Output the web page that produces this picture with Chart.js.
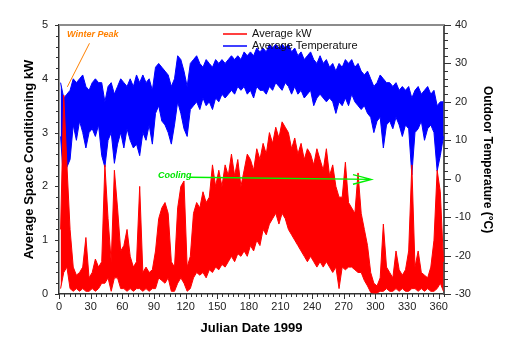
<!DOCTYPE html>
<html>
<head>
<meta charset="utf-8">
<script src="https://cdn.jsdelivr.net/npm/chart.js@4.4.1/dist/chart.umd.min.js"></script>
<style>
  html, body { margin: 0; padding: 0; background: #fff; }
  #wrap { width: 515px; height: 352px; }
</style>
</head>
<body>
<div id="wrap"><canvas id="chart"></canvas></div>
<script>
// each entry covers 3 days: lowest and highest reading seen in that window
const BIN = 3;

const kwLo = [
  0.1, 0.4, 0.5, 0.1, 0.05, 0.1, 0.05, 0.1, 0.05, 0.05,
  0.1, 0.05, 0.1, 0.2, 0.2, 0.3, 0.05, 0.3, 0.3, 0.1,
  0.1, 0.05, 0.1, 0.05, 0.1, 0.1, 0.05, 0.1, 0.05, 0.1,
  0.1, 0.3, 0.25, 0.2, 0.3, 0.05, 0.05, 0.2, 0.3, 0.2,
  0.05, 0.1, 0.3, 0.4, 0.35, 0.4, 0.3, 0.45, 0.4, 0.5,
  0.45, 0.55, 0.5, 0.6, 0.7, 0.6, 0.75, 0.7, 0.8, 0.7,
  0.9, 0.8, 1.0, 0.9, 1.2, 1.1, 1.3, 1.4, 1.5, 1.3,
  1.5, 1.4, 1.2, 1.1, 1.0, 0.9, 0.8, 0.7, 0.6, 0.7,
  0.6, 0.5, 0.6, 0.5, 0.6, 0.5, 0.4, 0.5, 0.1, 0.5,
  0.45, 0.5, 0.5, 0.45, 0.4, 0.4, 0.25, 0.15, 0.03, 0.02,
  0.02, 0.05, 0.05, 0.1, 0.05, 0.05, 0.1, 0.05, 0.1, 0.05,
  0.05, 0.1, 0.1, 0.05, 0.1, 0.05, 0.1, 0.05, 0.05, 0.1,
  0.2, 0.05
];
const kwHi = [
  1.2, 3.7, 2.4, 1.2, 0.5, 0.35, 0.4, 0.5, 1.05, 0.3,
  0.4, 0.65, 0.5, 0.6, 2.4, 1.4, 0.6, 2.3, 1.6, 0.8,
  0.9, 1.2, 0.7, 0.5, 0.6, 2.0, 0.4, 0.5, 0.4, 0.45,
  0.8, 1.4, 1.6, 1.7, 1.5, 0.6, 0.5, 1.6, 2.0, 2.1,
  0.5, 0.7, 1.5, 1.7, 1.6, 1.9, 1.7, 1.8, 2.4, 2.0,
  2.3, 2.0, 2.4, 2.2, 2.6, 2.2, 2.5, 2.0, 2.3, 2.6,
  2.5, 2.3, 2.7, 2.5, 2.8, 2.6, 3.0, 2.8, 3.1, 2.9,
  3.2, 3.1, 3.0, 2.7, 2.9, 2.6, 2.8, 2.5, 2.7, 2.6,
  2.4, 2.7, 2.5, 2.3, 2.7, 2.2, 2.4, 2.0, 1.8, 1.8,
  2.45, 1.7, 1.6, 1.5, 2.25, 1.5, 1.2, 0.9, 0.4, 0.2,
  0.15, 0.3, 1.3, 0.5, 0.4, 0.3, 0.8, 0.45, 0.35, 0.45,
  0.8, 2.4, 0.5, 0.8, 0.4, 0.35, 0.3, 0.5, 1.0, 2.3,
  1.9, 0.6
];
const tempLo = [
  11, -1, 3, 5, 14, 10, 15, 12, 8, 12,
  13, 11, 14, 6, 3, 10, 12, 4, 9, 12,
  8, 13, 10, 8, 9, 6, 12, 10, 14, 9,
  17, 19, 15, 14, 12, 9, 14, 20, 17, 13,
  11, 18, 19, 20, 18, 21, 19, 20, 18, 21,
  20, 22, 21, 22, 23, 22, 24, 23, 24, 22,
  23, 21, 24, 23, 23, 22, 24, 23, 25, 24,
  23, 25, 24, 22, 24, 22, 23, 21, 22, 23,
  19, 21, 22, 21, 20, 21, 20, 17, 20, 19,
  21, 19, 22, 20, 19, 18, 19, 17, 16, 12,
  15, 16, 8, 14, 15, 13, 16, 14, 11, 14,
  13, 1, 12, 13, 15, 10, 13, 14, 12, 2,
  6, 11
];
const tempHi = [
  25, 21, 22, 23, 26, 25, 26, 27, 24, 23,
  25, 26, 25, 25, 20, 24, 25, 22, 24, 26,
  25, 24, 26, 24, 27, 25, 27, 25, 26, 23,
  29, 30, 29, 28, 27, 24, 26, 32, 31, 28,
  24, 30, 31, 32, 30, 29, 31, 30, 29, 31,
  30, 31, 30, 31, 32, 31, 32, 31, 33, 32,
  33, 32, 34, 33, 34, 33, 35, 34, 35, 34,
  35, 34, 35, 33, 34, 32, 33, 31, 32, 33,
  31, 30, 32, 30, 31, 29, 30, 28, 30, 29,
  31, 30, 31, 29, 30, 28, 27, 28, 26, 24,
  25, 27, 26, 25, 25, 24, 25, 23, 24, 23,
  24, 21, 23, 24, 22, 23, 24, 22, 23, 19,
  20, 20
];

const xTicks = [0, 30, 60, 90, 120, 150, 180, 210, 240, 270, 300, 330, 360];
const kwTicks = [0, 1, 2, 3, 4, 5];
const tempTicks = [-30, -20, -10, 0, 10, 20, 30, 40];

const FONT = "'Liberation Sans', Arial, Helvetica, sans-serif";

// one point per 3-day window, at its middle
function edge(vals) {
  return vals.map((v, i) => ({ x: Math.min(i * BIN + BIN / 2, 365), y: v }));
}

// extra drawing: frame top, tick marks, legend and the two notes
const extras = {
  id: "extras",
  afterDraw(chart) {
    const { ctx, chartArea: a, scales } = chart;
    const x = scales.x, y = scales.y, y2 = scales.y2;
    ctx.save();

    ctx.strokeStyle = "#8c8c8c";
    ctx.lineWidth = 2;
    ctx.beginPath();
    ctx.moveTo(a.left, a.top);
    ctx.lineTo(a.right + 1, a.top);
    ctx.stroke();

    ctx.strokeStyle = "#333";
    ctx.lineWidth = 1;
    ctx.beginPath();
    for (let d = 0; d <= 365; d += 5) {
      const px = Math.round(x.getPixelForValue(d)) + 0.5;
      ctx.moveTo(px, a.bottom);
      ctx.lineTo(px, a.bottom + (d % 30 === 0 ? 5 : 3));
    }
    for (let k = 0; k <= 5.001; k += 0.2) {
      const py = Math.round(y.getPixelForValue(k)) + 0.5;
      const major = Math.abs(k - Math.round(k)) < 0.01;
      ctx.moveTo(a.left, py);
      ctx.lineTo(a.left - (major ? 4 : 3), py);
    }
    for (let t = -30; t <= 40; t += 2) {
      const py = Math.round(y2.getPixelForValue(t)) + 0.5;
      ctx.moveTo(a.right, py);
      ctx.lineTo(a.right + (t % 10 === 0 ? 7 : 4), py);
    }
    ctx.stroke();

    // legend (only the named series)
    ctx.font = "11px " + FONT;
    ctx.textBaseline = "middle";
    ctx.textAlign = "left";
    chart.data.datasets.filter(ds => ds.label).forEach((ds, i) => {
      const ly = 34 + i * 12;
      ctx.strokeStyle = ds.borderColor;
      ctx.lineWidth = 1.5;
      ctx.beginPath();
      ctx.moveTo(223, ly);
      ctx.lineTo(247, ly);
      ctx.stroke();
      ctx.fillStyle = "#111";
      ctx.fillText(ds.label, 252, ly);
    });

    // winter peak note
    ctx.font = "italic bold 9px " + FONT;
    ctx.fillStyle = "#ff8000";
    ctx.fillText("Winter Peak", x.getPixelForValue(7.6), y.getPixelForValue(4.83));
    ctx.strokeStyle = "#ff8000";
    ctx.lineWidth = 1;
    ctx.beginPath();
    ctx.moveTo(x.getPixelForValue(28.9), y.getPixelForValue(4.66));
    ctx.lineTo(x.getPixelForValue(7.9), y.getPixelForValue(3.85));
    ctx.stroke();

    // cooling note
    ctx.fillStyle = "#00e600";
    ctx.fillText("Cooling", x.getPixelForValue(93.8), y.getPixelForValue(2.21));
    ctx.strokeStyle = "#00f000";
    ctx.lineWidth = 1.3;
    ctx.beginPath();
    ctx.moveTo(x.getPixelForValue(124.2), y.getPixelForValue(2.17));
    ctx.lineTo(x.getPixelForValue(296.2), y.getPixelForValue(2.13));
    ctx.moveTo(x.getPixelForValue(278.7), y.getPixelForValue(2.22));
    ctx.lineTo(x.getPixelForValue(296.2), y.getPixelForValue(2.13));
    ctx.lineTo(x.getPixelForValue(278.7), y.getPixelForValue(2.04));
    ctx.stroke();

    ctx.restore();
  }
};

const tickFont = { family: FONT, size: 11 };
const titleFont = { family: FONT, size: 13, weight: "bold" };

new Chart(document.getElementById("chart"), {
  type: "line",
  data: {
    datasets: [
      {
        label: "Average kW",
        data: edge(kwHi),
        borderColor: "#ff0000",
        backgroundColor: "#ff0000",
        borderWidth: 1,
        fill: "+1",
        yAxisID: "y"
      },
      {
        data: edge(kwLo),
        borderColor: "#ff0000",
        borderWidth: 1,
        fill: false,
        yAxisID: "y"
      },
      {
        label: "Average Temperature",
        data: edge(tempHi),
        borderColor: "#0000ff",
        backgroundColor: "#0000ff",
        borderWidth: 1,
        fill: "+1",
        yAxisID: "y2"
      },
      {
        data: edge(tempLo),
        borderColor: "#0000ff",
        borderWidth: 1,
        fill: false,
        yAxisID: "y2"
      }
    ]
  },
  options: {
    responsive: true,
    maintainAspectRatio: false,
    animation: false,
    parsing: false,
    elements: { point: { radius: 0 }, line: { tension: 0 } },
    layout: { padding: { top: 25 } },
    plugins: { legend: { display: false }, tooltip: { enabled: false } },
    scales: {
      x: {
        type: "linear",
        min: 0,
        max: 365,
        afterBuildTicks: s => { s.ticks = xTicks.map(v => ({ value: v })); },
        afterFit: s => { s.height = 58; },
        ticks: { font: tickFont, color: "#222", padding: 6, maxRotation: 0, autoSkip: false },
        grid: { display: false, drawTicks: false },
        border: { color: "#333", width: 1.5 },
        title: { display: true, text: "Julian Date 1999", font: titleFont, color: "#000", padding: { top: 0, bottom: 16 } }
      },
      y: {
        position: "left",
        min: 0,
        max: 5,
        afterBuildTicks: s => { s.ticks = kwTicks.map(v => ({ value: v })); },
        afterFit: s => { s.width = 59; },
        ticks: { font: tickFont, color: "#222", padding: 11 },
        grid: { display: false, drawTicks: false },
        border: { color: "#333", width: 1.5 },
        title: { display: true, text: "Average Space Conditioning kW", font: titleFont, color: "#000", padding: { top: 22, bottom: 0 } }
      },
      y2: {
        position: "right",
        min: -30,
        max: 40,
        afterBuildTicks: s => { s.ticks = tempTicks.map(v => ({ value: v })); },
        afterFit: s => { s.width = 71; },
        ticks: { font: tickFont, color: "#222", padding: 11 },
        grid: { display: false, drawTicks: false },
        border: { color: "#555", width: 2 },
        title: { display: true, text: "Outdoor Temperature (\u00B0C)", font: { family: FONT, size: 12, weight: "bold" }, color: "#000", padding: { top: 20, bottom: 0 } }
      }
    }
  },
  plugins: [extras]
});
</script>
</body>
</html>
